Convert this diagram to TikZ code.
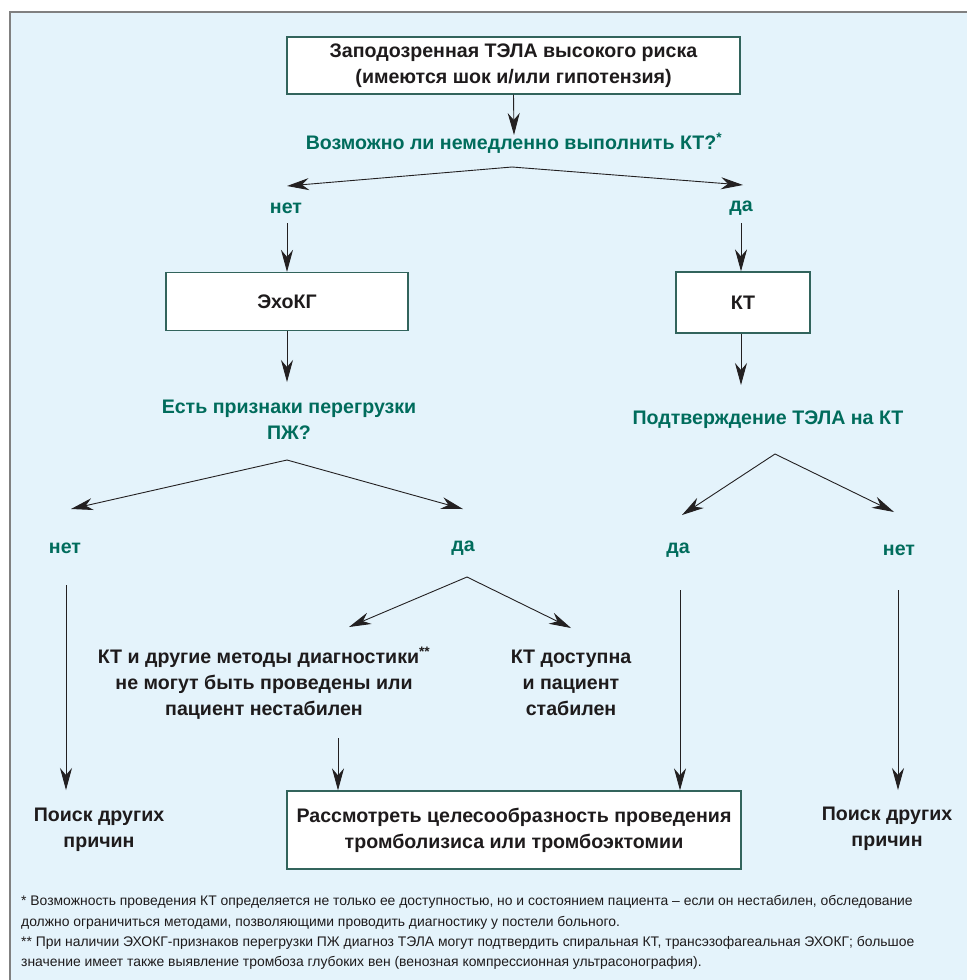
\documentclass[tikz,border=0pt]{standalone}
\usepackage{fontspec}
\setmainfont{Liberation Sans}
\usetikzlibrary{arrows.meta}
\definecolor{bgblue}{RGB}{228,243,251}
\definecolor{grn}{RGB}{0,108,92}
\definecolor{txt}{RGB}{30,27,28}
\definecolor{boxc}{RGB}{50,100,92}
\definecolor{framec}{RGB}{128,128,128}
\definecolor{linec}{RGB}{35,32,33}
\tikzset{
  box/.style={draw=boxc, line width=1.3pt, fill=white, inner sep=0pt, text=txt, align=center,
    font=\bfseries\fontsize{19.6}{26}\selectfont},
  quest/.style={text=grn, inner sep=0pt, align=center, font=\bfseries\fontsize{19.6}{26}\selectfont},
  lab/.style={text=grn, inner sep=0pt, font=\bfseries\fontsize{19.6}{26}\selectfont},
  txtn/.style={text=txt, inner sep=0pt, align=center, font=\bfseries\fontsize{19.6}{26}\selectfont},
  note/.style={text=txt, inner sep=0pt, align=left, font=\fontsize{13.9}{20.3}\selectfont},
  arr/.style={draw=linec, line width=0.9pt, -{Stealth[length=22pt,width=12pt,inset=7pt]}},
}
\begin{document}
\begin{tikzpicture}[x=1pt,y=-1pt]
\useasboundingbox (0,0) rectangle (967,980);
\fill[bgblue] (10,12) rectangle (967,980);
\draw[framec, line width=1.5pt] (10,980) -- (10,12) -- (967,12);

\node[box, minimum width=453pt, minimum height=57pt] (top) at (513.5,65.5)
  {Заподозренная ТЭЛА высокого риска\\(имеются шок и/или гипотензия)};
\node[quest] (q1) at (514,143) {Возможно ли немедленно выполнить КТ?\textsuperscript{*}};
\node[lab] (no1) at (286,208) {нет};
\node[lab] (yes1) at (741,208) {да};
\node[box, minimum width=242pt, minimum height=58pt] (echo) at (287,301.5) {ЭхоКГ};
\node[box, minimum width=134pt, minimum height=61pt] (ct) at (743,302.5) {КТ};
\node[quest] (q2) at (289,420) {Есть признаки перегрузки\\ПЖ?};
\node[quest] (q3) at (768,420) {Подтверждение ТЭЛА на КТ};
\node[lab] (no2) at (65,548) {нет};
\node[lab] (yes2) at (463,548) {да};
\node[lab] (yes3) at (678,550) {да};
\node[lab] (no3) at (899,550) {нет};
\node[txtn] (lt) at (264,683) {КТ и другие методы диагностики\textsuperscript{**}\\не могут быть проведены или\\пациент нестабилен};
\node[txtn] (rt) at (571,683) {КТ доступна\\и пациент\\стабилен};
\node[box, minimum width=454pt, minimum height=78pt] (fin) at (514,830)
  {Рассмотреть целесообразность проведения\\тромболизиса или тромбоэктомии};
\node[txtn] (oth1) at (99,830) {Поиск других\\причин};
\node[txtn] (oth2) at (887,829) {Поиск других\\причин};
\node[note, anchor=north west] (note) at (21,895.5)
  {* Возможность проведения КТ определяется не только ее доступностью, но и состоянием пациента – если он нестабилен, обследование\\
   должно ограничиться методами, позволяющими проводить диагностику у постели больного.\\
   ** При наличии ЭХОКГ-признаков перегрузки ПЖ диагноз ТЭЛА могут подтвердить спиральная КТ, трансэзофагеальная ЭХОКГ; большое\\
   значение имеет также выявление тромбоза глубоких вен (венозная компрессионная ультрасонография).};

\coordinate (f1) at ([xshift=-2pt,yshift=-24pt]q1.center);
\coordinate (f2) at ([xshift=-2pt,yshift=-40pt]q2.center);
\coordinate (f3) at ([xshift=7pt,yshift=-34pt]q3.center);
\coordinate (f4) at ([xshift=4pt,yshift=-29pt]yes2.center);

\draw[arr] (top.south) -- ([yshift=8pt]q1.center);
\draw[arr] (f1) -- ([xshift=1pt,yshift=22pt]no1.center);
\draw[arr] (f1) -- ([xshift=2pt,yshift=23pt]yes1.center);
\draw[arr] ([xshift=1pt,yshift=-15pt]no1.center) -- (echo.north);
\draw[arr] ([yshift=-15pt]yes1.center) -- ([xshift=-2pt]ct.north);
\draw[arr] (echo.south) -- ([xshift=-2pt,yshift=38pt]q2.center);
\draw[arr] ([xshift=-2pt]ct.south) -- ([xshift=-27pt,yshift=35pt]q3.center);
\draw[arr] (f2) -- ([xshift=6pt,yshift=39pt]no2.center);
\draw[arr] (f2) -- ([yshift=39pt]yes2.center);
\draw[arr] (f3) -- ([xshift=4pt,yshift=35pt]yes3.center);
\draw[arr] (f3) -- ([xshift=-5pt,yshift=38pt]no3.center);
\draw[arr] ([xshift=1pt,yshift=-37pt]no2.center) -- ([xshift=-33pt,yshift=40pt]oth1.center);
\draw[arr] (f4) -- ([xshift=85pt,yshift=56pt]lt.center);
\draw[arr] (f4) -- ([yshift=55pt]rt.center);
\draw[arr] ([xshift=74pt,yshift=-55pt]lt.center) -- ([xshift=-176pt]fin.north);
\draw[arr] ([xshift=2pt,yshift=-40pt]yes3.center) -- ([xshift=166pt]fin.north);
\draw[arr] ([xshift=-1pt,yshift=-40pt]no3.center) -- ([xshift=11pt,yshift=39pt]oth2.center);
\end{tikzpicture}
\end{document}
